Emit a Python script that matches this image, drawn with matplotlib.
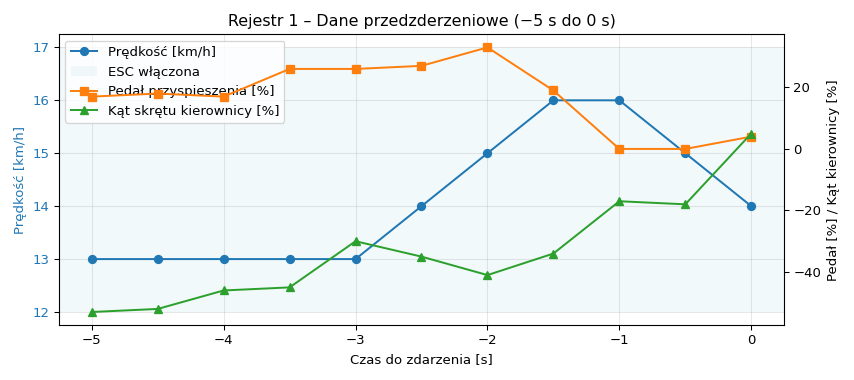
import numpy as np
import matplotlib.pyplot as plt

czas = [-5, -4.5, -4, -3.5, -3, -2.5, -2, -1.5, -1, -0.5, 0]
predkosc = [13, 13, 13, 13, 13, 14, 15, 16, 16, 15, 14]
pedal = [17, 18, 17, 26, 26, 27, 33, 19, 0, 0, 4]
kat = [-53, -52, -46, -45, -30, -35, -41, -34, -17, -18, 5]
esc_zakres = [12, 17]

fig, ax = plt.subplots(figsize=(854 / 95, 4.0), dpi=95)

l1, = ax.plot(czas, predkosc, marker='o', color='tab:blue', label='Prędkość [km/h]')
span = ax.axhspan(esc_zakres[0], esc_zakres[1], color='lightblue', alpha=0.15,
                  lw=0, label='ESC włączona')
ax.set_xlabel("Czas do zdarzenia [s]")
ax.set_ylabel("Prędkość [km/h]", color='tab:blue')
ax.tick_params(axis='y', labelcolor='tab:blue')
ax.grid(True, alpha=0.3)

bx = ax.twinx()
l2, = bx.plot(czas, pedal, marker='s', color='tab:orange', label='Pedał przyspieszenia [%]')
l3, = bx.plot(czas, kat, marker='^', color='tab:green', label='Kąt skrętu kierownicy [%]')
bx.set_ylabel("Pedał [%] / Kąt kierownicy [%]")

ax.legend([l1, span, l2, l3], [h.get_label() for h in [l1, span, l2, l3]],
          loc='upper left')
ax.set_title("Rejestr 1 – Dane przedzderzeniowe (−5 s do 0 s)")

fig.tight_layout()
fig.savefig("out.png")
